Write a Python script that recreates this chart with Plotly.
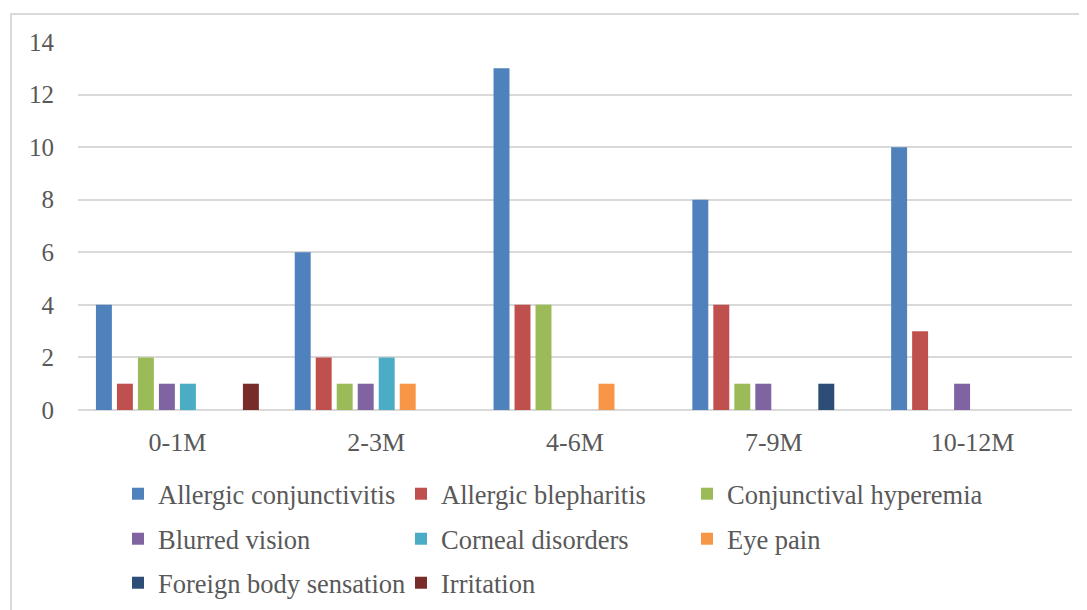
import plotly.graph_objects as go

categories = ["0-1M", "2-3M", "4-6M", "7-9M", "10-12M"]
series_names = [
    "Allergic conjunctivitis", "Allergic blepharitis", "Conjunctival hyperemia",
    "Blurred vision", "Corneal disorders", "Eye pain",
    "Foreign body sensation", "Irritation",
]
allergic_conjunctivitis = [4, 6, 13, 8, 10]
allergic_blepharitis = [1, 2, 4, 4, 3]
conjunctival_hyperemia = [2, 1, 4, 1, 0]
blurred_vision = [1, 1, 0, 1, 1]
corneal_disorders = [1, 2, 0, 0, 0]
eye_pain = [0, 1, 1, 0, 0]
foreign_body_sensation = [0, 0, 0, 1, 0]
irritation = [1, 0, 0, 0, 0]
y_ticks = [0, 2, 4, 6, 8, 10, 12, 14]

values = [allergic_conjunctivitis, allergic_blepharitis, conjunctival_hyperemia,
          blurred_vision, corneal_disorders, eye_pain, foreign_body_sensation, irritation]
colors = ["#4F81BD", "#C0504D", "#9BBB59", "#8064A2", "#4BACC6", "#F79646", "#2C4D75", "#772C2A"]

FONT = "Times New Roman, Liberation Serif, serif"
TXT = "#595959"
W, H = 1087, 610
OFF = 8  # page body margin
ML, MT = 78 - OFF, 42 - OFF
PW, PH = 994, 368
MR, MB = W - ML - PW, H - MT - PH

def px_x(p):
    return (p - OFF - ML) / PW

def px_y(p):
    return (H - MB - (p - OFF)) / PH

# legend grid (page pixels): text starts at col_x + 40
col_x = [118, 401, 687]
row_y = [494, 539, 583]

fig = go.Figure()
legends = {}
for i, (name, vals, col) in enumerate(zip(series_names, values, colors)):
    lid = "legend" if i == 0 else f"legend{i + 1}"
    fig.add_trace(go.Bar(
        x=categories, y=vals, name=name, legend=lid,
        marker=dict(color=col, line=dict(width=0)),
    ))
    legends[lid] = dict(
        x=px_x(col_x[i % 3]), y=px_y(row_y[i // 3]),
        xanchor="left", yanchor="middle", orientation="h",
        font=dict(family=FONT, size=26.5, color=TXT),
        bgcolor="rgba(0,0,0,0)", itemclick=False, itemdoubleclick=False,
    )

fig.update_layout(
    width=W, height=H,
    margin=dict(l=ML, r=MR, t=MT, b=MB, autoexpand=False),
    paper_bgcolor="white", plot_bgcolor="white",
    barmode="group", bargap=0.155, bargroupgap=0.24,
    font=dict(family=FONT, size=26, color=TXT),
    showlegend=True,
    xaxis=dict(
        showgrid=False, showline=False, zeroline=False, ticks="",
        tickfont=dict(family=FONT, size=26, color=TXT),
        ticklabelstandoff=14, automargin=False,
    ),
    yaxis=dict(
        range=[0, 14], tickvals=y_ticks, showgrid=True,
        gridcolor="#D9D9D9", gridwidth=1.5, zeroline=True, zerolinecolor="#D9D9D9",
        zerolinewidth=1.5, showline=False, ticks="",
        tickfont=dict(family=FONT, size=25, color=TXT),
        ticklabelstandoff=23, automargin=False,
    ),
    shapes=[dict(
        type="rect", xref="paper", yref="paper",
        x0=px_x(11), x1=px_x(1100), y0=px_y(625), y1=px_y(14),
        line=dict(color="#D9D9D9", width=2), fillcolor="rgba(0,0,0,0)", layer="below",
    )],
)
fig.update_layout(**legends)

fig.write_html("out.html")
